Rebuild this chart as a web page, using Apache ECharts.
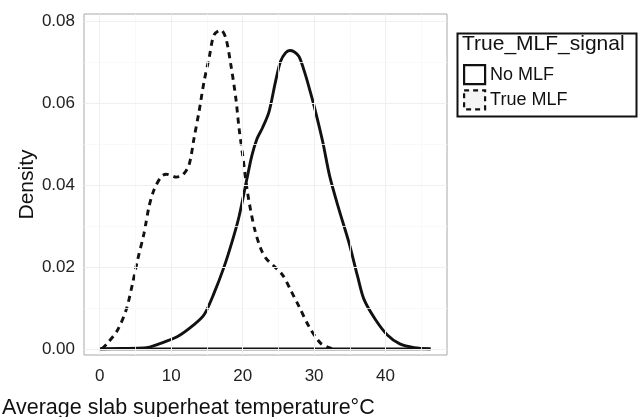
<!DOCTYPE html>
<html>
<head>
<meta charset="utf-8">
<script src="https://cdn.jsdelivr.net/npm/echarts@6/dist/echarts.min.js"></script>
<style>html,body{margin:0;padding:0;background:#fff}#c{width:639px;height:417px}</style>
</head>
<body>
<div id="c"></div>
<script>
// Data
var noMlfX = [0, 3, 6.2, 8.6, 10.9, 13.2, 14.6, 16.0, 17.4, 18.6, 19.5, 20.6, 21.3, 22.0, 22.8, 23.7, 24.6, 25.3, 26.0, 26.6, 27.2, 27.9, 28.8, 29.5, 30.2, 31.2, 32.2, 33.5, 34.9, 36.1, 37.0, 38.6, 40.25, 42, 44, 46.3];
var noMlfY = [0, 0.0001, 0.0002, 0.0014, 0.003, 0.0059, 0.0083, 0.0136, 0.020, 0.0266, 0.0323, 0.0415, 0.0472, 0.0512, 0.0540, 0.0579, 0.0652, 0.0701, 0.0722, 0.0728, 0.0725, 0.0713, 0.0668, 0.0625, 0.0579, 0.0506, 0.0420, 0.0339, 0.0258, 0.0176, 0.012, 0.0071, 0.0034, 0.0012, 0.0003, 0];
var trueMlfX = [0.3, 1.1, 2.5, 3.7, 4.6, 5.3, 6.2, 6.9, 7.6, 8.6, 9.3, 10.0, 10.7, 11.6, 12.5, 13.2, 13.9, 14.6, 15.3, 16.0, 16.95, 17.65, 18.35, 19.05, 19.5, 20.0, 20.7, 21.6, 22.5, 23.3, 24.2, 25.6, 26.7, 27.9, 29.3, 30.9, 32.3, 33.0];
var trueMlfY = [0, 0.0014, 0.0046, 0.0095, 0.016, 0.0217, 0.0282, 0.0347, 0.0388, 0.042, 0.0426, 0.0423, 0.0419, 0.0424, 0.0449, 0.0514, 0.0579, 0.0652, 0.0709, 0.0766, 0.0778, 0.0758, 0.0693, 0.0611, 0.0538, 0.0473, 0.038, 0.0298, 0.0246, 0.022, 0.0205, 0.018, 0.0144, 0.0103, 0.0054, 0.0014, 0.0002, 0];
var baseX = [0, 46.3];
var baseY = [0, 0];
var xTicks = [0, 10, 20, 30, 40];
var xMinor = [5, 15, 25, 35, 45];
var yTicks = [0, 0.02, 0.04, 0.06, 0.08];
var yMinor = [0.01, 0.03, 0.05, 0.07];
var yTickLabels = ['0.00', '0.02', '0.04', '0.06', '0.08'];
var seriesNames = ['No MLF', 'True MLF'];
var legendTitle = 'True_MLF_signal';
var xTitle = 'Average slab superheat temperature\u00b0C';
var yTitle = 'Density';

function pairs(xs, ys) { return xs.map(function (x, i) { return [x, ys[i]]; }); }

var FONT = 'Liberation Sans, Arial, Helvetica, sans-serif';
var chart = echarts.init(document.getElementById('c'), null, { renderer: 'canvas' });

var gridLines = [];
xMinor.forEach(function (v) { gridLines.push({ xAxis: v, lineStyle: { color: '#f7f7f7', width: 0.8, type: 'solid' } }); });
yMinor.forEach(function (v) { gridLines.push({ yAxis: v, lineStyle: { color: '#f7f7f7', width: 0.8, type: 'solid' } }); });
xTicks.forEach(function (v) { gridLines.push({ xAxis: v, lineStyle: { color: '#efefef', width: 1, type: 'solid' } }); });
yTicks.forEach(function (v) { gridLines.push({ yAxis: v, lineStyle: { color: '#efefef', width: 1, type: 'solid' } }); });

chart.setOption({
  animation: false,
  backgroundColor: '#fff',
  grid: { left: 84, right: 192, top: 14, bottom: 62, show: true, borderColor: '#a8a8a8', borderWidth: 1, backgroundColor: 'transparent' },
  xAxis: {
    type: 'value', min: -2.2, max: 48.6,
    axisLine: { show: false },
    axisTick: { show: true, length: 5, inside: false, customValues: xTicks, lineStyle: { color: '#444', width: 1 } },
    axisLabel: { customValues: xTicks, fontFamily: FONT, fontSize: 17, color: '#222', margin: 13, formatter: function (v) { return String(v); } },
    splitLine: { show: false }
  },
  yAxis: {
    type: 'value', min: -0.0015, max: 0.0817,
    name: yTitle, nameLocation: 'middle', nameGap: 46, nameMoveOverlap: false,
    nameTextStyle: { fontFamily: FONT, fontSize: 21, color: '#111' },
    axisLine: { show: false },
    axisTick: { show: true, length: 5, customValues: yTicks, lineStyle: { color: '#444', width: 1 } },
    axisLabel: { customValues: yTicks, fontFamily: FONT, fontSize: 17, color: '#222', margin: 9,
      formatter: function (v) { var i = yTicks.indexOf(v); return i >= 0 ? yTickLabels[i] : v.toFixed(2); } },
    splitLine: { show: false }
  },
  legend: {
    orient: 'vertical', left: 463, top: 64, itemWidth: 21, itemHeight: 19, itemGap: 4,
    icon: 'rect', padding: 0,
    textStyle: { fontFamily: FONT, fontSize: 18, color: '#111', padding: [0, 0, 0, 0] },
    data: [
      { name: seriesNames[0], itemStyle: { color: '#fff', borderColor: '#111', borderWidth: 2.2, borderType: 'solid' } },
      { name: seriesNames[1], itemStyle: { color: '#f4f4f4', borderColor: '#111', borderWidth: 2.2, borderType: [5, 4] } }
    ]
  },
  graphic: [
    { type: 'rect', left: 455, top: 31, shape: { width: 179, height: 83 }, style: { fill: 'none', stroke: '#111', lineWidth: 2 }, z: 10 },
    { type: 'text', left: 462, top: 34, style: { text: legendTitle, font: '21px ' + FONT, fill: '#111' }, z: 10 },
    { type: 'text', left: 2, top: 397, style: { text: xTitle, font: '21.5px ' + FONT, fill: '#111' }, z: 10 }
  ],
  series: [
    { type: 'line', name: 'grid', data: [], silent: true, markLine: { silent: true, symbol: 'none', label: { show: false }, data: gridLines }, z: 1 },
    { type: 'line', name: seriesNames[1], data: pairs(trueMlfX, trueMlfY), showSymbol: false, smooth: 0.3,
      lineStyle: { color: '#111', width: 2.9, type: [6, 5] }, itemStyle: { color: '#111' }, z: 3 },
    { type: 'line', name: seriesNames[0], data: pairs(noMlfX, noMlfY), showSymbol: false, smooth: 0.3,
      lineStyle: { color: '#111', width: 2.9, type: 'solid' }, itemStyle: { color: '#111' }, z: 4 },
    { type: 'line', name: 'baseline', data: pairs(baseX, baseY), showSymbol: false,
      lineStyle: { color: '#111', width: 2.9, type: 'solid' }, z: 4 }
  ]
});
</script>
</body>
</html>
